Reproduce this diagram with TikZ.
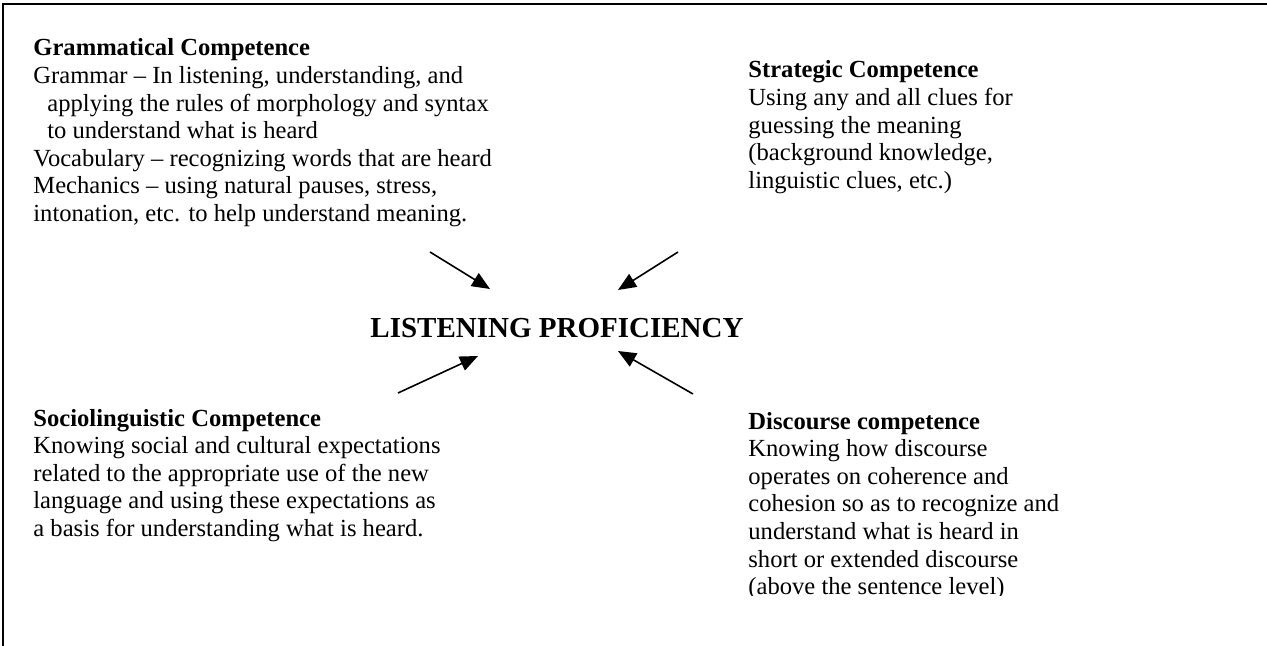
\documentclass[tikz,border=0pt]{standalone}
\usepackage{fontspec}
\setmainfont{Liberation Serif}
\usetikzlibrary{arrows.meta}
\newcommand{\blk}[1]{\begin{tabular}[t]{@{}l@{}}#1\end{tabular}}
\tikzset{
  txt/.style={anchor=base west, inner sep=0pt, font=\fontsize{12.3}{13.8}\selectfont},
  arr/.style={line width=0.8pt, -{Triangle[length=9pt,width=7.5pt]}},
  frame/.style={line width=1pt}
}
\begin{document}
\begin{tikzpicture}[x=0.5pt,y=-0.5pt]
\useasboundingbox (0,0) rectangle (1267,646);
\coordinate (tl) at (3,4);
\coordinate (tr) at (1267,4);
\coordinate (bl) at (3,646);
\draw[frame] (bl) -- (tl) -- (tr);

\node[txt] (gram) at (33,56) {\blk{\textbf{Grammatical Competence}\\
Grammar -- In listening, understanding, and\\
\hspace*{7pt}applying the rules of morphology and syntax\\
\hspace*{7pt}to understand what is heard\\
Vocabulary -- recognizing words that are heard\\
Mechanics -- using natural pauses, stress,\\
intonation, etc. to help understand meaning.}};

\node[txt] (strat) at (748,78) {\blk{\textbf{Strategic Competence}\\
Using any and all clues for\\
guessing the meaning\\
(background knowledge,\\
linguistic clues, etc.)}};

\node[anchor=base, inner sep=0pt, font=\fontsize{14.5}{17}\selectfont\bfseries] (lp) at (557,337) {LISTENING PROFICIENCY};

\node[txt] (socio) at (33,426) {\blk{\textbf{Sociolinguistic Competence}\\
Knowing social and cultural expectations\\
related to the appropriate use of the new\\
language and using these expectations as\\
a basis for understanding what is heard.}};

\begin{scope}
\clip (0,0) rectangle (1267,595);
\node[txt] (disc) at (748,429) {\blk{\textbf{Discourse competence}\\
Knowing how discourse\\
operates on coherence and\\
cohesion so as to recognize and\\
understand what is heard in\\
short or extended discourse\\
(above the sentence level)}};
\end{scope}

\coordinate (a1s) at (430,252);
\coordinate (a1e) at (490,289);
\coordinate (a2s) at (678,252);
\coordinate (a2e) at (618,290);
\coordinate (a3s) at (398,393);
\coordinate (a3e) at (478,356);
\coordinate (a4s) at (693,394);
\coordinate (a4e) at (618,351);
\draw[arr] (a1s) -- (a1e);
\draw[arr] (a2s) -- (a2e);
\draw[arr] (a3s) -- (a3e);
\draw[arr] (a4s) -- (a4e);
\end{tikzpicture}
\end{document}
